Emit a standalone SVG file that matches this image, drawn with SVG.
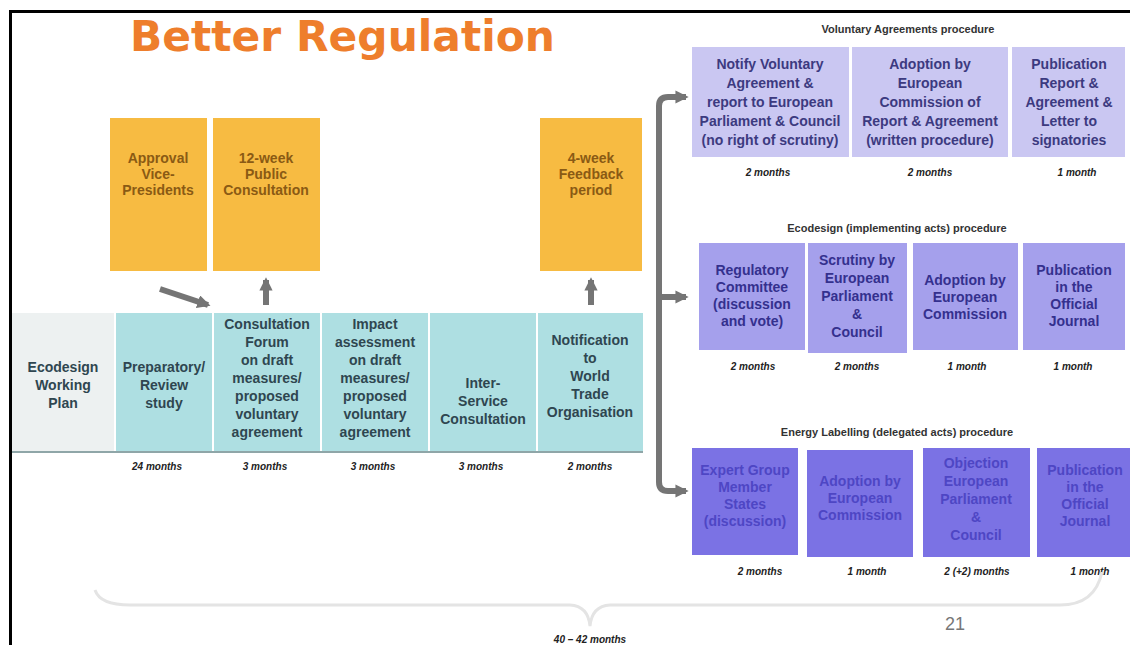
<svg xmlns="http://www.w3.org/2000/svg" width="1130" height="645" viewBox="0 0 1130 645">
<defs>
<style>
.t{font-family:"Liberation Sans",Arial,sans-serif;font-weight:bold;text-anchor:middle}
.or{fill:#F7BB42}
.ot{fill:#8A5A14;font-size:14px}
.tl{fill:#AEDFE2}
.tt{fill:#2F4650;font-size:14px}
.va{fill:#CAC7F2}
.vt{fill:#3C3A80;font-size:14px}
.ec{fill:#A5A0EC}
.et{fill:#34308E;font-size:14px}
.el{fill:#7B72E4}
.lt{fill:#4E46C4;font-size:14px}
.hd{fill:#333;font-size:11px}
.du{fill:#222;font-size:10px;font-style:italic}
.ar{fill:none;stroke:#757575;stroke-width:6}
</style>
<marker id="ah" viewBox="0 0 10 10" refX="8" refY="5" markerWidth="2.2" markerHeight="2.2" orient="auto"><path d="M0,0 L10,5 L0,10 z" fill="#757575"/></marker>
</defs>
<rect width="1130" height="645" fill="#fff"/>
<path d="M10.5,645 V11.5 H1130" fill="none" stroke="#000" stroke-width="3"/>
<text x="130" y="51" font-family="DejaVu Sans,Verdana,sans-serif" font-weight="bold" font-size="42" fill="#EE7E2C" textLength="425" lengthAdjust="spacingAndGlyphs">Better Regulation</text>

<g id="approval"><rect class="or" x="110" y="118" width="97" height="153"/><text class="t ot"><tspan x="158" y="163">Approval</tspan><tspan x="158" y="179">Vice-</tspan><tspan x="158" y="195">Presidents</tspan></text></g>
<g id="public-consultation"><rect class="or" x="213" y="118" width="107" height="153"/><text class="t ot"><tspan x="266" y="163">12-week</tspan><tspan x="266" y="179">Public</tspan><tspan x="266" y="195">Consultation</tspan></text></g>
<g id="feedback"><rect class="or" x="540" y="118" width="102" height="153"/><text class="t ot"><tspan x="591" y="163">4-week</tspan><tspan x="591" y="179">Feedback</tspan><tspan x="591" y="195">period</tspan></text></g>

<g id="working-plan"><rect x="12" y="313" width="102" height="139" fill="#EDF1F1"/><text class="t tt" fill="#3a4a50"><tspan x="63" y="372">Ecodesign</tspan><tspan x="63" y="390">Working</tspan><tspan x="63" y="408">Plan</tspan></text></g>
<g id="preparatory"><rect class="tl" x="116" y="313" width="96" height="139"/><text class="t tt"><tspan x="164" y="372">Preparatory/</tspan><tspan x="164" y="390">Review</tspan><tspan x="164" y="408">study</tspan></text></g>
<g id="consultation-forum"><rect class="tl" x="214" y="313" width="106" height="139"/><text class="t tt"><tspan x="267" y="329">Consultation</tspan><tspan x="267" y="347">Forum</tspan><tspan x="267" y="365">on draft</tspan><tspan x="267" y="383">measures/</tspan><tspan x="267" y="401">proposed</tspan><tspan x="267" y="419">voluntary</tspan><tspan x="267" y="437">agreement</tspan></text></g>
<g id="impact"><rect class="tl" x="322" y="313" width="106" height="139"/><text class="t tt"><tspan x="375" y="329">Impact</tspan><tspan x="375" y="347">assessment</tspan><tspan x="375" y="365">on draft</tspan><tspan x="375" y="383">measures/</tspan><tspan x="375" y="401">proposed</tspan><tspan x="375" y="419">voluntary</tspan><tspan x="375" y="437">agreement</tspan></text></g>
<g id="inter-service"><rect class="tl" x="430" y="313" width="106" height="139"/><text class="t tt"><tspan x="483" y="388">Inter-</tspan><tspan x="483" y="406">Service</tspan><tspan x="483" y="424">Consultation</tspan></text></g>
<g id="wto"><rect class="tl" x="538" y="313" width="105" height="139"/><text class="t tt"><tspan x="590" y="345">Notification</tspan><tspan x="590" y="363">to</tspan><tspan x="590" y="381">World</tspan><tspan x="590" y="399">Trade</tspan><tspan x="590" y="417">Organisation</tspan></text></g>
<line x1="12" y1="452" x2="643" y2="452" stroke="#8fa6a8" stroke-width="2"/>

<g class="t du"><text x="157" y="470">24 months</text><text x="265" y="470">3 months</text><text x="373" y="470">3 months</text><text x="481" y="470">3 months</text><text x="590" y="470">2 months</text></g>

<text class="t hd" x="908" y="33">Voluntary Agreements procedure</text>
<g id="va-notify"><rect class="va" x="692" y="47" width="157" height="110"/><text class="t vt"><tspan x="770" y="69">Notify Voluntary</tspan><tspan x="770" y="88">Agreement &amp;</tspan><tspan x="770" y="107">report to European</tspan><tspan x="770" y="126">Parliament &amp; Council</tspan><tspan x="770" y="145">(no right of scrutiny)</tspan></text></g>
<g id="va-adoption"><rect class="va" x="852" y="47" width="156" height="110"/><text class="t vt"><tspan x="930" y="69">Adoption by</tspan><tspan x="930" y="88">European</tspan><tspan x="930" y="107">Commission of</tspan><tspan x="930" y="126">Report &amp; Agreement</tspan><tspan x="930" y="145">(written procedure)</tspan></text></g>
<g id="va-publication"><rect class="va" x="1012" y="47" width="113" height="110"/><text class="t vt"><tspan x="1069" y="69">Publication</tspan><tspan x="1069" y="88">Report &amp;</tspan><tspan x="1069" y="107">Agreement &amp;</tspan><tspan x="1069" y="126">Letter to</tspan><tspan x="1069" y="145">signatories</tspan></text></g>
<g class="t du"><text x="768" y="176">2 months</text><text x="930" y="176">2 months</text><text x="1077" y="176">1 month</text></g>

<text class="t hd" x="897" y="232">Ecodesign (implementing acts) procedure</text>
<g id="ec-committee"><rect class="ec" x="699" y="243" width="106" height="107"/><text class="t et"><tspan x="752" y="275">Regulatory</tspan><tspan x="752" y="292">Committee</tspan><tspan x="752" y="309">(discussion</tspan><tspan x="752" y="326">and vote)</tspan></text></g>
<g id="ec-scrutiny"><rect class="ec" x="808" y="243" width="99" height="110"/><text class="t et"><tspan x="857" y="265">Scrutiny by</tspan><tspan x="857" y="283">European</tspan><tspan x="857" y="301">Parliament</tspan><tspan x="857" y="319">&amp;</tspan><tspan x="857" y="337">Council</tspan></text></g>
<g id="ec-adoption"><rect class="ec" x="913" y="243" width="105" height="107"/><text class="t et"><tspan x="965" y="285">Adoption by</tspan><tspan x="965" y="302">European</tspan><tspan x="965" y="319">Commission</tspan></text></g>
<g id="ec-publication"><rect class="ec" x="1023" y="243" width="102" height="107"/><text class="t et"><tspan x="1074" y="275">Publication</tspan><tspan x="1074" y="292">in the</tspan><tspan x="1074" y="309">Official</tspan><tspan x="1074" y="326">Journal</tspan></text></g>
<g class="t du"><text x="753" y="370">2 months</text><text x="857" y="370">2 months</text><text x="967" y="370">1 month</text><text x="1073" y="370">1 month</text></g>

<text class="t hd" x="897" y="436">Energy Labelling (delegated acts) procedure</text>
<g id="el-expert"><rect class="el" x="692" y="448" width="106" height="107"/><text class="t lt"><tspan x="745" y="475">Expert Group</tspan><tspan x="745" y="492">Member</tspan><tspan x="745" y="509">States</tspan><tspan x="745" y="526">(discussion)</tspan></text></g>
<g id="el-adoption"><rect class="el" x="807" y="450" width="106" height="107"/><text class="t lt"><tspan x="860" y="486">Adoption by</tspan><tspan x="860" y="503">European</tspan><tspan x="860" y="520">Commission</tspan></text></g>
<g id="el-objection"><rect class="el" x="923" y="448" width="107" height="109"/><text class="t lt"><tspan x="976" y="468">Objection</tspan><tspan x="976" y="486">European</tspan><tspan x="976" y="504">Parliament</tspan><tspan x="976" y="522">&amp;</tspan><tspan x="976" y="540">Council</tspan></text></g>
<g id="el-publication"><rect class="el" x="1037" y="448" width="93" height="109"/><text class="t lt"><tspan x="1085" y="475">Publication</tspan><tspan x="1085" y="492">in the</tspan><tspan x="1085" y="509">Official</tspan><tspan x="1085" y="526">Journal</tspan></text></g>
<g class="t du"><text x="760" y="575">2 months</text><text x="867" y="575">1 month</text><text x="977" y="575">2 (+2) months</text><text x="1090" y="575">1 month</text></g>

<g id="connectors">
<line class="ar" x1="160" y1="289" x2="208" y2="305" marker-end="url(#ah)"/>
<line class="ar" x1="266" y1="305" x2="266" y2="280" marker-end="url(#ah)"/>
<line class="ar" x1="591" y1="305" x2="591" y2="280" marker-end="url(#ah)"/>
<path class="ar" d="M659,297 V106 Q659,97 668,97 H686" marker-end="url(#ah)"/>
<path class="ar" d="M659,297 V482 Q659,491 668,491 H686" marker-end="url(#ah)"/>
<line class="ar" x1="656" y1="297" x2="686" y2="297" marker-end="url(#ah)"/>
</g>

<path d="M95,590 Q100,605 130,605 L570,605 Q588,606 590,626 Q592,606 610,605 L1060,605 Q1095,605 1102,572" fill="none" stroke="#e4e4e4" stroke-width="3"/>
<text class="t du" x="590" y="643" fill="#333">40 – 42 months</text>
<text x="955" y="630" font-family="Liberation Sans,Arial,sans-serif" font-size="18" fill="#777" text-anchor="middle">21</text>
</svg>
